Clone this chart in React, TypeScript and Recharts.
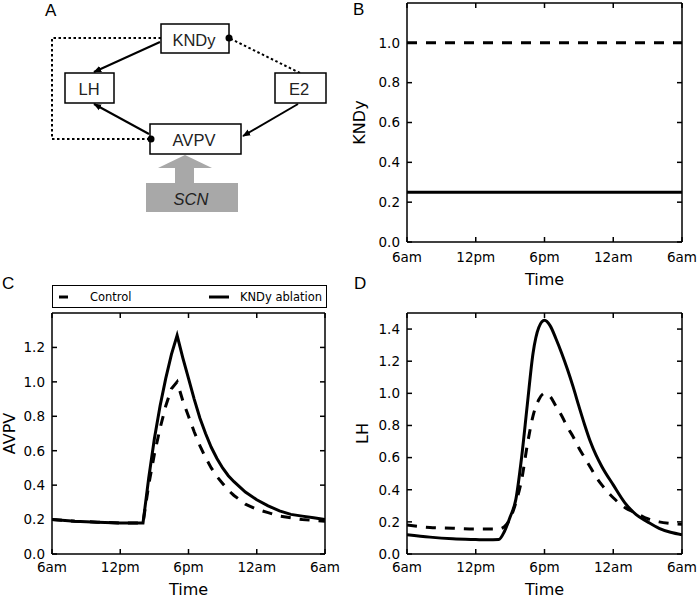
import { LineChart, Line, XAxis, YAxis, Legend, Label } from 'recharts';

// shared time axis (hours since midnight, 6am -> 6am next day)
const timeTicks = [6, 12, 18, 24, 30];
const timeLabels = ['6am', '12pm', '6pm', '12am', '6am'];

const seriesNames = ['Control', 'KNDy ablation'];

// panel B: KNDy
const kndyHours = [6, 12, 18, 24, 30];
const kndyControl = [1, 1, 1, 1, 1];
const kndyAblation = [0.25, 0.25, 0.25, 0.25, 0.25];

// panels C and D
const hours = [6, 8, 10, 12, 13, 14, 14.5, 15, 15.5, 16, 16.5, 17, 17.5, 18, 18.5, 19, 19.5, 20, 20.5, 21, 21.5, 22, 22.5, 23, 24, 25, 26, 27, 28, 29, 30];
const avpvControl = [0.2, 0.19, 0.185, 0.18, 0.18, 0.18, 0.4, 0.58, 0.73, 0.86, 0.96, 1.0, 0.89, 0.8, 0.71, 0.63, 0.56, 0.5, 0.45, 0.41, 0.37, 0.34, 0.315, 0.29, 0.26, 0.24, 0.22, 0.21, 0.2, 0.195, 0.19];
const avpvAblation = [0.2, 0.19, 0.185, 0.18, 0.18, 0.18, 0.44, 0.67, 0.86, 1.02, 1.16, 1.27, 1.14, 1.02, 0.9, 0.79, 0.7, 0.62, 0.555, 0.5, 0.455, 0.42, 0.39, 0.36, 0.315, 0.28, 0.25, 0.23, 0.22, 0.21, 0.2];
const lhControl = [0.18, 0.165, 0.16, 0.155, 0.155, 0.155, 0.17, 0.22, 0.32, 0.46, 0.68, 0.86, 0.96, 1.0, 0.98, 0.92, 0.86, 0.79, 0.73, 0.66, 0.6, 0.54, 0.48, 0.43, 0.35, 0.29, 0.255, 0.22, 0.2, 0.19, 0.185];
const lhAblation = [0.12, 0.105, 0.095, 0.09, 0.088, 0.09, 0.14, 0.23, 0.34, 0.6, 0.93, 1.25, 1.41, 1.455, 1.42, 1.34, 1.25, 1.15, 1.04, 0.92, 0.805, 0.7, 0.615, 0.545, 0.43, 0.32, 0.245, 0.2, 0.16, 0.135, 0.12];

const kndyTicks = [0, 0.2, 0.4, 0.6, 0.8, 1.0];
const avpvTicks = [0, 0.2, 0.4, 0.6, 0.8, 1.0, 1.2];
const lhTicks = [0, 0.2, 0.4, 0.6, 0.8, 1.0, 1.2, 1.4];

const kndyData = kndyHours.map((h, i) => ({ h, control: kndyControl[i], ablation: kndyAblation[i] }));
const avpvData = hours.map((h, i) => ({ h, control: avpvControl[i], ablation: avpvAblation[i] }));
const lhData = hours.map((h, i) => ({ h, control: lhControl[i], ablation: lhAblation[i] }));

const FONT = '"DejaVu Sans", sans-serif';
const DIAGRAM_FONT = '"Liberation Sans", Arial, sans-serif';
const tickStyle = { fill: '#000', fontSize: 13.5, fontFamily: FONT };
const blackLine = { stroke: '#000', strokeWidth: 1.5 };
const noTick = () => <g />;

const yTitle = (text: string, x: number) => ({ viewBox }: any) => {
  const cy = viewBox.y + viewBox.height / 2;
  return (
    <text x={x} y={cy} transform={`rotate(-90 ${x} ${cy})`} textAnchor="middle" fontSize={16} fontFamily={FONT} fill="#000">
      {text}
    </text>
  );
};

const xTitle = (y: number) => ({ viewBox }: any) => (
  <text x={viewBox.x + viewBox.width / 2} y={y} textAnchor="middle" fontSize={16} fontFamily={FONT} fill="#000">
    Time
  </text>
);

const legendContent = () => (
  <div
    style={{
      boxSizing: 'border-box', width: 275, height: 23, border: '1.5px solid #000', background: '#fff',
      display: 'flex', alignItems: 'center', fontFamily: FONT, fontSize: 11.5, color: '#000',
    }}
  >
    {seriesNames.map((name, i) => (
      <div key={name} style={{ display: 'flex', alignItems: 'center', marginLeft: i === 0 ? 6 : 'auto', marginRight: i === 0 ? 0 : 4 }}>
        <svg width={20} height={6}>
          <line x1={0} x2={20} y1={3} y2={3} stroke="#000" strokeWidth={3} strokeDasharray={i === 0 ? '9 20' : undefined} />
        </svg>
        <span style={{ marginLeft: 11 }}>{name}</span>
      </div>
    ))}
  </div>
);

interface PanelProps {
  data: { h: number; control: number; ablation: number }[];
  width: number;
  height: number;
  margin: { top: number; right: number; bottom: number; left: number };
  xAxisHeight: number;
  yDomain: [number, number];
  yTicks: number[];
  yLabel: string;
  yLabelX: number;
  timeY: number;
  tickGap: number;
  curve: 'linear' | 'monotone';
  showLegend?: boolean;
}

function Panel(p: PanelProps) {
  // 1px frame axes draw the box and the inward ticks on all four sides;
  // the text-only axes ("labels") stack just outside them
  const frameX = { dataKey: 'h', type: 'number' as const, domain: [6, 30], ticks: timeTicks, interval: 0, height: 1, tickSize: -5, tick: noTick, allowDataOverflow: true, axisLine: blackLine, tickLine: blackLine, ...blackLine };
  const frameY = { domain: p.yDomain, ticks: p.yTicks, interval: 0, width: 1, tickSize: -5, tick: noTick, allowDataOverflow: true, axisLine: blackLine, tickLine: blackLine, ...blackLine };
  return (
    <LineChart width={p.width} height={p.height} data={p.data} margin={p.margin}>
      <XAxis orientation="bottom" {...frameX} />
      <XAxis xAxisId="frameTop" orientation="top" {...frameX} />
      <YAxis orientation="left" {...frameY} />
      <YAxis yAxisId="frameRight" orientation="right" {...frameY} />
      <XAxis
        xAxisId="labels" dataKey="h" type="number" domain={[6, 30]} ticks={timeTicks} interval={0} allowDataOverflow
        tickFormatter={(v: number) => timeLabels[timeTicks.indexOf(v)]}
        height={p.xAxisHeight - 1} tickSize={-5} tickMargin={p.tickGap - 1} tick={tickStyle}
        axisLine={false} tickLine={false}
      >
        <Label content={xTitle(p.timeY)} />
      </XAxis>
      <YAxis
        yAxisId="labels" domain={p.yDomain} ticks={p.yTicks} interval={0} width={39} tickSize={-5} tickMargin={11} allowDataOverflow
        tickFormatter={(v: number) => v.toFixed(1)} tick={tickStyle}
        axisLine={false} tickLine={false}
      >
        <Label content={yTitle(p.yLabel, p.yLabelX)} />
      </YAxis>
      {p.showLegend && (
        <Legend
          content={legendContent} layout="horizontal" verticalAlign="middle" align="center"
          wrapperStyle={{ top: 5, left: 52, width: 275 }}
        />
      )}
      <Line
        dataKey="control" name={seriesNames[0]} type={p.curve} stroke="#000" strokeWidth={3}
        strokeDasharray="10 9" dot={false} isAnimationActive={false}
      />
      <Line
        dataKey="ablation" name={seriesNames[1]} type={p.curve} stroke="#000" strokeWidth={3}
        dot={false} isAnimationActive={false}
      />
    </LineChart>
  );
}

function Diagram() {
  const box = { fill: '#fff', stroke: '#000', strokeWidth: 1.5 };
  const txt = { fontFamily: DIAGRAM_FONT, fontSize: 16.5, fill: '#222', textAnchor: 'middle' as const };
  const solid = { stroke: '#000', strokeWidth: 2, markerEnd: 'url(#arrowHead)' };
  const dotted = { stroke: '#000', strokeWidth: 2, strokeDasharray: '2.5 2.5', fill: 'none' };
  return (
    <svg width={350} height={230} style={{ position: 'absolute', left: 0, top: 0 }}>
      <defs>
        <marker id="arrowHead" viewBox="0 0 10 10" refX="9" refY="5" markerUnits="userSpaceOnUse" markerWidth="8" markerHeight="8" orient="auto">
          <path d="M0,1 L10,5 L0,9 z" fill="#000" />
        </marker>
      </defs>
      {/* inhibitory (dotted) links */}
      <polyline points="161,38 52,38 52,139 150,139" {...dotted} />
      <line x1={300} y1={73} x2={229} y2={38} {...dotted} />
      {/* stimulatory links */}
      <line x1={160} y1={42} x2={94} y2={72} {...solid} />
      <line x1={149} y1={134} x2={94} y2={104} {...solid} />
      <line x1={298} y1={104} x2={243} y2={136} {...solid} />
      {/* SCN input */}
      <rect x={175} y={166} width={19} height={18} fill="#a8a8a8" />
      <polygon points="158,168 212,168 185,155" fill="#a8a8a8" />
      <rect x={146} y={183} width={92} height={29} fill="#a8a8a8" />
      <text x={191} y={205} {...txt} fontStyle="italic">SCN</text>
      {/* nodes */}
      <rect x={161} y={24} width={68} height={29} {...box} />
      <rect x={65} y={73} width={49} height={30} {...box} />
      <rect x={275} y={73} width={51} height={30} {...box} />
      <rect x={150} y={124} width={91} height={30} {...box} />
      <circle cx={151} cy={139} r={3.5} fill="#000" />
      <circle cx={229} cy={38} r={3.5} fill="#000" />
      <text x={194} y={46} {...txt}>KNDy</text>
      <text x={89} y={95} {...txt}>LH</text>
      <text x={299} y={95} {...txt}>E2</text>
      <text x={194} y={146} {...txt}>AVPV</text>
    </svg>
  );
}

const letterStyle = { position: 'absolute' as const, fontFamily: DIAGRAM_FONT, fontSize: 17, lineHeight: '17px', color: '#000' };

export default function App() {
  return (
    <div style={{ position: 'absolute', left: 0, top: 0, width: 700, height: 600, background: '#fff', overflow: 'hidden' }}>
      <Diagram />
      <div style={{ position: 'absolute', left: 350, top: 0 }}>
        <Panel
          data={kndyData} width={350} height={290} margin={{ top: 2, right: 17, bottom: 0, left: 17 }}
          xAxisHeight={48} yDomain={[0, 1.2]} yTicks={kndyTicks} yLabel="KNDy" yLabelX={15} timeY={285}
          tickGap={15} curve="linear"
        />
      </div>
      <div style={{ position: 'absolute', left: 0, top: 280 }}>
        <Panel
          data={avpvData} width={350} height={320} margin={{ top: 32, right: 24, bottom: 0, left: 12 }}
          xAxisHeight={46} yDomain={[0, 1.4]} yTicks={avpvTicks} yLabel="AVPV" yLabelX={15} timeY={315}
          tickGap={13} curve="linear" showLegend
        />
      </div>
      <div style={{ position: 'absolute', left: 350, top: 280 }}>
        <Panel
          data={lhData} width={350} height={320} margin={{ top: 32, right: 17, bottom: 0, left: 17 }}
          xAxisHeight={46} yDomain={[0, 1.5]} yTicks={lhTicks} yLabel="LH" yLabelX={18} timeY={315}
          tickGap={13} curve="monotone"
        />
      </div>
      <div style={{ ...letterStyle, left: 45, top: 2 }}>A</div>
      <div style={{ ...letterStyle, left: 353, top: 1 }}>B</div>
      <div style={{ ...letterStyle, left: 2, top: 275 }}>C</div>
      <div style={{ ...letterStyle, left: 354, top: 275 }}>D</div>
    </div>
  );
}
